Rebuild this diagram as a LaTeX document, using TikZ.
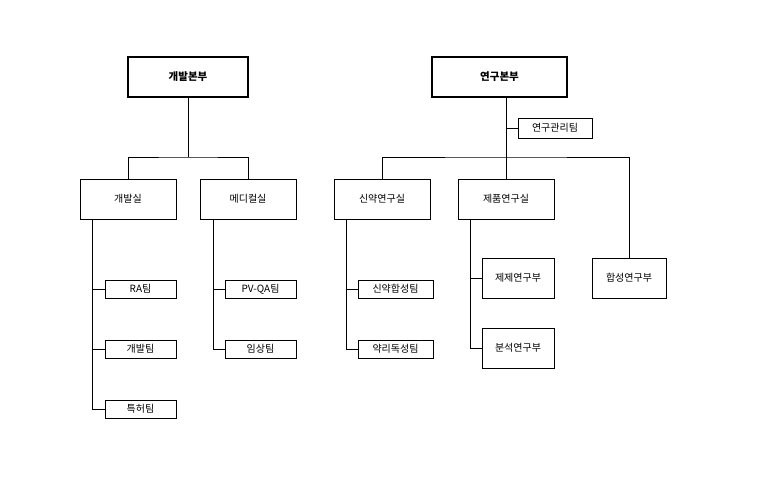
\documentclass[tikz,border=0pt]{standalone}
\usepackage{fontspec}
\setmainfont{Noto Sans CJK KR}
\begin{document}
\begin{tikzpicture}[x=1pt,y=-1pt,
  box/.style={draw,thin,minimum width=96pt,minimum height=40pt,inner sep=0pt,font=\fontsize{10}{12}\selectfont},
  top/.style={box,line width=1.2pt,minimum width=120pt,font=\fontsize{10.5}{12}\bfseries\selectfont},
  small/.style={box,minimum width=71pt,minimum height=18pt},
  ln/.style={draw,thin}]
\useasboundingbox[fill=white] (0,0) rectangle (758,478);
\node[top] (gb) at (188,77) {개발본부};
\node[top,minimum width=135pt] (yb) at (499.5,77) {연구본부};
\node[box] (gs) at (128,199) {개발실};
\node[box] (ms) at (248,199) {메디컬실};
\node[box] (ss) at (382,199) {신약연구실};
\node[box] (js) at (506,199) {제품연구실};
\node[small,minimum width=74pt,minimum height=20pt] (ym) at (555,128) {연구관리팀};
\node[small] (ra) at (140.5,289) {RA팀};
\node[small] (gt) at (140.5,349) {개발팀};
\node[small] (tt) at (140.5,409) {특허팀};
\node[small] (pv) at (260.5,289) {PV-QA팀};
\node[small] (is) at (260.5,349) {임상팀};
\node[small,minimum width=75pt] (sh) at (395.5,289) {신약합성팀};
\node[small,minimum width=75pt] (yd) at (395.5,349) {약리독성팀};
\node[box,minimum width=72pt] (jj) at (518,278) {제제연구부};
\node[box,minimum width=72pt] (bs) at (518,348) {분석연구부};
\node[box,minimum width=74pt] (hs) at (629,278) {합성연구부};
\coordinate (g1) at (188,157);
\coordinate (y1) at (506,157);
\draw (gb.south) -- (g1);
\draw (gs.north) |- (g1) -| (ms.north);
\draw (506,97) -- (y1);
\draw (ss.north) |- (y1) -| (hs.north);
\draw (y1) -- (js.north);
\draw (506,128) -- (ym.west);
\draw (92,219) |- (ra.west); \draw (92,219) |- (gt.west); \draw (92,219) |- (tt.west);
\draw (213,219) |- (pv.west); \draw (213,219) |- (is.west);
\draw (346,219) |- (sh.west); \draw (346,219) |- (yd.west);
\draw (470,219) |- (jj.west); \draw (470,219) |- (bs.west);
\end{tikzpicture}
\end{document}
